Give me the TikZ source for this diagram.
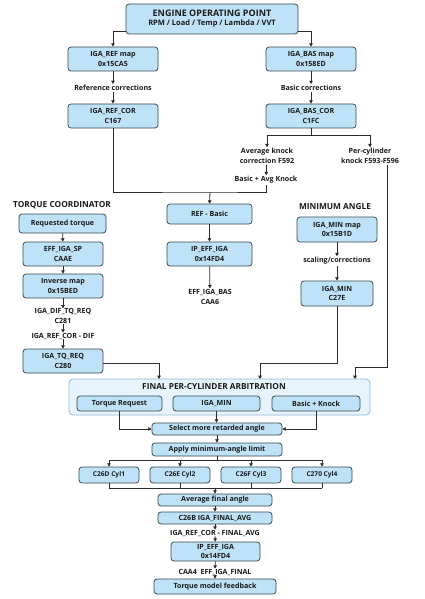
\documentclass[tikz,border=0pt]{standalone}
\usepackage{fontspec}
\setmainfont{Open Sans}
\usetikzlibrary{arrows.meta,calc}
\definecolor{boxc}{HTML}{BEE3F8}
\definecolor{bordc}{HTML}{3A4852}
\definecolor{outc}{HTML}{E7F4FC}
\definecolor{outb}{HTML}{8FB9D6}
\definecolor{linec}{HTML}{2B2B2B}
\definecolor{txtc}{HTML}{1A1A1A}
\newcommand\fsA{\fontsize{7.1}{9.6}\selectfont\bfseries}
\newcommand\fsB{\fontsize{6.6}{8.5}\selectfont\bfseries}
\newcommand\fsT{\fontsize{8.3}{11}\selectfont\bfseries}
\newcommand\fsE{\fontsize{9}{11}\selectfont\bfseries}
\newcommand\fsS{\fontsize{7.5}{11}\selectfont\bfseries}
\tikzset{
  box/.style={draw=bordc, fill=boxc, rounded corners=3pt, line width=0.75pt, align=center, font=\fsA, inner sep=0pt, text=txtc},
  outbox/.style={draw=outb, fill=outc, rounded corners=4pt, line width=0.75pt, inner sep=0pt},
  lbl/.style={align=center, font=\fsA, inner sep=1pt, text=txtc},
  ttl/.style={align=center, font=\fsT, inner sep=0pt, text=txtc},
  arr/.style={-{Triangle[length=3.3pt,width=3.5pt]}, line width=0.8pt, draw=linec},
  ln/.style={line width=0.8pt, draw=linec}
}
\begin{document}
\begin{tikzpicture}[x=1pt,y=-1pt]
\useasboundingbox[fill=white] (0,0) rectangle (424,599);

% top
\node[box, minimum width=172pt, minimum height=30pt] (eng) at (212,19)
  {{\fsE ENGINE OPERATING POINT}\\[-0.5pt]{\fsS RPM / Load / Temp / Lambda / VVT}};
\node[box, minimum width=90pt, minimum height=24pt] (refmap) at (113,59) {IGA\_REF map\\0x15CA5};
\node[box, minimum width=90pt, minimum height=24pt] (basmap) at (311,59) {IGA\_BAS map\\0x158ED};
\node[lbl] (refcl) at (113,88) {Reference corrections};
\node[lbl] (bascl) at (311,88) {Basic corrections};
\node[box, minimum width=90pt, minimum height=24pt] (refcor) at (113,116) {IGA\_REF\_COR\\C167};
\node[box, minimum width=90pt, minimum height=24pt] (bascor) at (311,116) {IGA\_BAS\_COR\\C1FC};
\node[lbl] (avgk) at (267,156) {Average knock\\correction F592};
\node[lbl] (percyl) at (370,156) {Per-cylinder\\knock F593-F596};
\node[lbl] (basavg) at (266,180) {Basic + Avg Knock};

% centre column
\node[box, minimum width=85pt, minimum height=20pt] (refbasic) at (209.5,214) {REF - Basic};
\node[box, minimum width=85pt, minimum height=24pt] (ipeff) at (209.5,254) {IP\_EFF\_IGA\\0x14FD4};
\node[lbl] (effbas) at (210,297) {EFF\_IGA\_BAS\\CAA6};

% torque coordinator
\node[ttl] (tqt) at (62,205) {TORQUE COORDINATOR};
\node[box, minimum width=87pt, minimum height=19pt] (reqtq) at (62.5,223.5) {Requested torque};
\node[box, minimum width=80pt, minimum height=24pt] (effsp) at (63,254) {EFF\_IGA\_SP\\CAAE};
\node[box, minimum width=80pt, minimum height=24pt] (invmap) at (63,286) {Inverse map\\0x15BED};
\node[lbl, inner sep=0pt] (dif) at (63,316) {IGA\_DIF\_TQ\_REQ\\C281};
\node[lbl, inner sep=0pt] (refdif) at (63,336) {IGA\_REF\_COR - DIF};
\node[box, minimum width=80pt, minimum height=24pt] (tqreq) at (63,361) {IGA\_TQ\_REQ\\C280};

% minimum angle
\node[ttl] (mint) at (335,207) {MINIMUM ANGLE};
\node[box, minimum width=80pt, minimum height=25pt] (minmap) at (337,229.5) {IGA\_MIN map\\0x15B1D};
\node[lbl] (scal) at (337,261) {scaling/corrections};
\node[box, minimum width=72pt, minimum height=25pt] (igamin) at (337,293.5) {IGA\_MIN\\C27E};

% arbitration
\node[outbox, minimum width=301pt, minimum height=36pt] (arb) at (219.5,397) {};
\node[ttl] (arbt) at (214,387) {FINAL PER-CYLINDER ARBITRATION};
\node[box, minimum width=85pt, minimum height=15pt] (tr) at (119.5,403.5) {Torque Request};
\node[box, minimum width=87pt, minimum height=15pt] (im) at (216.5,403.5) {IGA\_MIN};
\node[box, minimum width=88pt, minimum height=15pt] (bk) at (316,403.5) {Basic + Knock};
\node[box, minimum width=130pt, minimum height=12pt] (sel) at (217,429) {Select more retarded angle};
\node[box, minimum width=130pt, minimum height=13pt] (apl) at (217,449.5) {Apply minimum-angle limit};
\node[box, font=\fsB, minimum width=60pt, minimum height=16pt] (c1) at (109,475) {C26D Cyl1};
\node[box, font=\fsB, minimum width=60pt, minimum height=16pt] (c2) at (180,475) {C26E Cyl2};
\node[box, font=\fsB, minimum width=60pt, minimum height=16pt] (c3) at (251,475) {C26F Cyl3};
\node[box, font=\fsB, minimum width=60pt, minimum height=16pt] (c4) at (322,475) {C270 Cyl4};
\node[box, minimum width=114pt, minimum height=12pt] (avg) at (215,500) {Average final angle};
\node[box, minimum width=114pt, minimum height=12pt] (c26b) at (215,518) {C26B IGA\_FINAL\_AVG};
\node[lbl, inner sep=0pt] (fav) at (215,533) {IGA\_REF\_COR - FINAL\_AVG};
\node[box, minimum width=89pt, minimum height=19pt] (ipeff2) at (215.5,551.5) {IP\_EFF\_IGA\\0x14FD4};
\node[lbl, inner sep=0pt] (caa4) at (215,572) {CAA4\ \ EFF\_IGA\_FINAL};
\node[box, minimum width=122pt, minimum height=15pt] (tmf) at (215,586.5) {Torque model feedback};

% coordinates
\coordinate (j1) at (210,192);
\coordinate (jb) at (311,135);
\coordinate (jt) at (217,460);
\coordinate (jc) at (215,488);

% connectors top
\draw[arr] ([yshift=-12pt]eng.west) -| (refmap.north);
\draw[arr] ([yshift=-12pt]eng.east) -| (basmap.north);
\draw[arr] (refmap) -- (refcl);
\draw[arr] (refcl) -- (refcor);
\draw[arr] (basmap) -- (bascl);
\draw[arr] (bascl) -- (bascor);
\draw[ln] (bascor.south) -- (jb);
\draw[arr] (jb) -| (avgk.north);
\draw[arr] (jb) -| (percyl.north);
\draw[arr] (avgk) -- (basavg);
\draw[ln] (refcor.south) |- (j1) -| (basavg.south);
\draw[arr] (j1) -- (refbasic.north);
\draw[arr] (refbasic) -- (ipeff);
\draw[arr] (ipeff) -- (effbas);

% torque column
\draw[arr] (reqtq) -- (effsp);
\draw[arr] (effsp) -- (invmap);
\draw[arr] (invmap) -- (dif);
\draw[arr] (dif) -- (refdif);
\draw[arr] (refdif) -- (tqreq);

% min column
\draw[arr] (minmap) -- (scal);
\draw[arr] (scal) -- (igamin);

% into arbitration
\draw[arr] ([yshift=-2pt]tqreq.east) -| (159,379);
\draw[arr] (igamin.south) |- (260,363) -- (260,379);
\draw[arr] ([xshift=17pt]percyl.south) |- (355,367) -- (355,379);

% arbitration internals
\draw[arr] (tr.south) |- (sel.west);
\draw[arr] (bk.south) |- (sel.east);
\draw[arr] (im.south) -- (im.south |- sel.north);
\draw[arr] (sel) -- (apl);
\draw[ln] (apl.south) -- (jt);
\draw[ln] (c1.north |- jt) -- (c4.north |- jt);
\foreach \c in {c1,c2,c3,c4} {\draw[arr] (\c.north |- jt) -- (\c.north);}
\foreach \c in {c1,c2,c3,c4} {\draw[ln] (\c.south) -- (\c.south |- jc);}
\draw[ln] (c1.south |- jc) -- (c4.south |- jc);
\draw[arr] (jc) -- (avg.north);
\draw[arr] (avg) -- (c26b);
\draw[arr] (c26b) -- (fav);
\draw[arr] (fav) -- (ipeff2);
\draw[arr] (ipeff2) -- (caa4);
\draw[arr] (caa4) -- (tmf);
\end{tikzpicture}
\end{document}
